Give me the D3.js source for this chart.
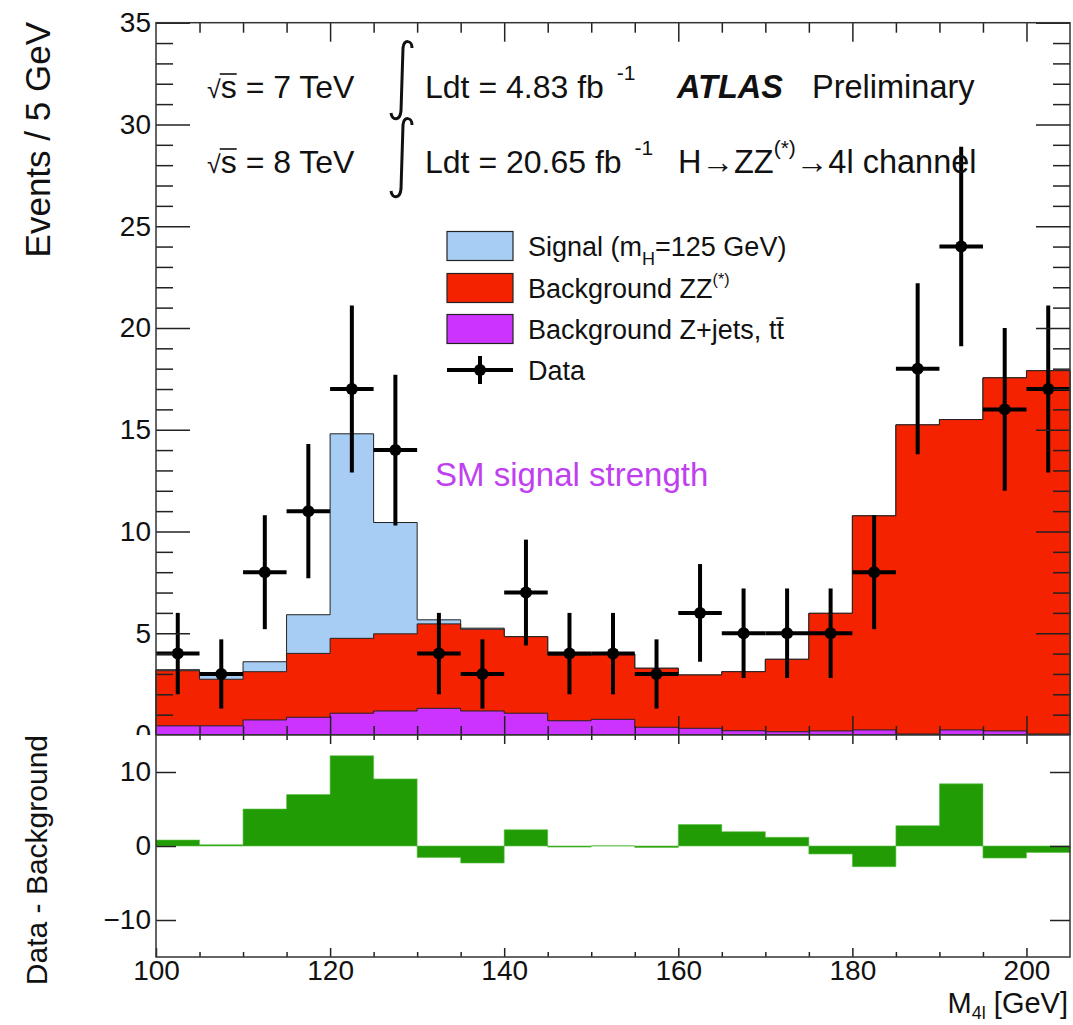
<!DOCTYPE html>
<html>
<head>
<meta charset="utf-8">
<title>H to ZZ(*) to 4l</title>
<script src="https://d3js.org/d3.v7.min.js"></script>
<style>
  html, body { margin: 0; background: #fff; }
  text { font-family: "Liberation Sans", Arial, Helvetica, sans-serif; }
</style>
</head>
<body>
<script>

// bin edges of M4l (GeV), 5 GeV bins
var edges = [100, 105, 110, 115, 120, 125, 130, 135, 140, 145, 150,
             155, 160, 165, 170, 175, 180, 185, 190, 195, 200, 205];

// expected events per bin
var zjets  = [0.45, 0.45, 0.74, 0.87, 1.07, 1.18, 1.31, 1.18, 1.07, 0.70, 0.77,
              0.38, 0.33, 0.21, 0.16, 0.20, 0.25, 0.05, 0.25, 0.20, 0.05];
var zz     = [2.71, 2.29, 2.37, 3.14, 3.68, 3.79, 4.15, 4.02, 3.76, 3.23, 3.21,
              2.90, 2.62, 2.90, 3.56, 5.78, 10.52, 15.19, 15.25, 17.35, 17.85];
var signal = [0.05, 0.24, 0.49, 1.90, 10.05, 5.47, 0.20, 0.05, 0, 0, 0,
              0, 0, 0, 0, 0, 0, 0, 0, 0, 0];

// observed events and their errors
var dataN   = [4, 3, 8, 11, 17, 14, 4, 3, 7, 4, 4, 3, 6, 5, 5, 5, 8, 18, 24, 16, 17];
var dataErr = [2.0, 1.7, 2.8, 3.3, 4.1, 3.7, 2.0, 1.7, 2.6, 2.0, 2.0,
               1.7, 2.4, 2.2, 2.2, 2.2, 2.8, 4.2, 4.9, 4.0, 4.1];

// data - background per bin (lower pad)
var diff = [0.80, 0.17, 5.00, 6.95, 12.2, 9.07, -1.54, -2.30, 2.20, -0.15, 0.02,
            -0.20, 2.90, 1.94, 1.17, -1.08, -2.80, 2.75, 8.40, -1.63, -0.87];

// ticks
var yTopMajor = [0, 5, 10, 15, 20, 25, 30, 35];
var yBotMajor = [-10, 0, 10];
var xMajor = [100, 120, 140, 160, 180, 200];
var xMinor = [105, 110, 115, 125, 130, 135, 145, 150, 155, 165, 170, 175, 185, 190, 195];

var W = 1073, H = 1025;
var svg = d3.select("body").append("svg").attr("width", W).attr("height", H);

var x    = d3.scaleLinear().domain([100, 205]).range([156, 1070]);
var yTop = d3.scaleLinear().domain([0, 35]).range([735, 22.7]);
var yBot = d3.scaleLinear().domain([-15, 15]).range([957, 735]);

var yTopMinor = d3.range(0, 36).filter(function(v) { return v % 5 != 0; });

// stacked totals
var cumZj  = zjets.slice();
var cumZZ  = zz.map(function(v, i) { return v + zjets[i]; });
var cumSig = signal.map(function(v, i) { return v + cumZZ[i]; });

function stepPts(vals) {
  var pts = vals.map(function(v, i) { return [edges[i], v]; });
  pts.push([edges[vals.length], vals[vals.length - 1]]);
  return pts;
}

var areaTop = d3.area().curve(d3.curveStepAfter)
  .x(function(d) { return x(d[0]); })
  .y0(yTop(0))
  .y1(function(d) { return yTop(d[1]); });

var upper = svg.append("g");

upper.append("path").datum(stepPts(cumSig)).attr("d", areaTop)
  .attr("fill", "#a8cdf5").attr("stroke", "#222").attr("stroke-width", 1);
upper.append("path").datum(stepPts(cumZZ)).attr("d", areaTop)
  .attr("fill", "#f52200").attr("stroke", "#222").attr("stroke-width", 1);
upper.append("path").datum(stepPts(cumZj)).attr("d", areaTop)
  .attr("fill", "#cc33ff").attr("stroke", "#222").attr("stroke-width", 1);

// data points
var pts = upper.append("g");
pts.selectAll("line.v").data(dataN).join("line").attr("class", "v")
  .attr("x1", function(d, i) { return x((edges[i] + edges[i + 1]) / 2); })
  .attr("x2", function(d, i) { return x((edges[i] + edges[i + 1]) / 2); })
  .attr("y1", function(d, i) { return yTop(d - dataErr[i]); })
  .attr("y2", function(d, i) { return yTop(d + dataErr[i]); })
  .attr("stroke", "#000").attr("stroke-width", 4);
pts.selectAll("line.h").data(dataN).join("line").attr("class", "h")
  .attr("x1", function(d, i) { return x(edges[i]); })
  .attr("x2", function(d, i) { return x(edges[i + 1]); })
  .attr("y1", function(d) { return yTop(d); })
  .attr("y2", function(d) { return yTop(d); })
  .attr("stroke", "#000").attr("stroke-width", 4);
pts.selectAll("circle").data(dataN).join("circle")
  .attr("cx", function(d, i) { return x((edges[i] + edges[i + 1]) / 2); })
  .attr("cy", function(d) { return yTop(d); })
  .attr("r", 6).attr("fill", "#000");

function axisG(gen, tx, ty) {
  var g = svg.append("g").attr("transform", "translate(" + tx + "," + ty + ")").call(gen);
  g.select(".domain").remove();
  g.selectAll("line").attr("stroke", "#222").attr("stroke-width", 1.5);
  g.attr("font-family", null).attr("font-size", 28);
  g.selectAll("text").attr("fill", "#111");
  return g;
}

// top pad axes
axisG(d3.axisLeft(yTop).tickValues(yTopMajor).tickSize(-34).tickPadding(5).tickFormat(d3.format("d")), 156, 0);
axisG(d3.axisLeft(yTop).tickValues(yTopMinor).tickSize(-17).tickFormat(""), 156, 0);
axisG(d3.axisRight(yTop).tickValues(yTopMajor).tickSize(-34).tickFormat(""), 1070, 0);
axisG(d3.axisRight(yTop).tickValues(yTopMinor).tickSize(-17).tickFormat(""), 1070, 0);
axisG(d3.axisTop(x).tickValues(xMajor.slice(1)).tickSize(-19).tickFormat(""), 0, 22.7);
axisG(d3.axisTop(x).tickValues(xMinor).tickSize(-10).tickFormat(""), 0, 22.7);
axisG(d3.axisBottom(x).tickValues(xMajor.slice(1)).tickSize(-19).tickFormat(""), 0, 735);
axisG(d3.axisBottom(x).tickValues(xMinor).tickSize(-9).tickFormat(""), 0, 735);

svg.append("rect").attr("x", 156).attr("y", 22.7).attr("width", 914).attr("height", 712.3)
  .attr("fill", "none").attr("stroke", "#333").attr("stroke-width", 1.5);

// texts in top pad
function rich(parent, xx, yy, size, parts, attrs) {
  var t = parent.append("text").attr("x", xx).attr("y", yy).attr("font-size", size).attr("fill", "#111");
  var prev = 0;
  parts.forEach(function(p) {
    var sh = p.shift || 0;
    var ts = t.append("tspan").text(p.t).attr("dy", sh - prev);
    if (p.size) ts.attr("font-size", p.size);
    if (p.weight) ts.attr("font-weight", p.weight);
    if (p.style) ts.attr("font-style", p.style);
    if (p.dx) ts.attr("dx", p.dx);
    prev = sh;
  });
  if (attrs) for (var k in attrs) t.attr(k, attrs[k]);
  return t;
}

function sqrtS(xx, yy, label) {
  var t = rich(svg, xx, yy, 32, [{t: "\u221A", size: 25}, {t: "s" + label}]);
  var e = t.node().getExtentOfChar(1);
  svg.append("line").attr("x1", e.x - 1).attr("x2", e.x + e.width)
    .attr("y1", yy - 24).attr("y2", yy - 24).attr("stroke", "#111").attr("stroke-width", 1.6);
}
sqrtS(207, 98, " = 7 TeV");
sqrtS(207, 173, " = 8 TeV");

var integ = svg.append("g").attr("fill", "none").attr("stroke", "#111").attr("stroke-width", 3);
integ.append("path").attr("d", "M412,48 C412,40 404,39 403,48 L401,111 C400,121 392,121 391,113");
integ.append("path").attr("d", "M412,125 C412,117 404,116 403,125 L401,189 C400,199 392,199 391,191");

rich(svg, 425, 98, 32, [{t: "Ldt = 4.83 fb "}, {t: "-1", size: 21, shift: -18, dx: 4}]);
rich(svg, 425, 173, 32, [{t: "Ldt = 20.65 fb "}, {t: "-1", size: 21, shift: -18, dx: 4}]);
rich(svg, 677, 98, 32.5, [{t: "ATLAS", weight: "bold", style: "italic"}]);
rich(svg, 812, 98, 32.5, [{t: "Preliminary"}]);
rich(svg, 678, 173, 32.5, [{t: "H\u2192ZZ"}, {t: "(*)", size: 21, shift: -18}, {t: "\u21924l channel"}]);

rich(svg, 435, 486, 33, [{t: "SM signal strength"}]).attr("fill", "#c040f0");

// legend
var legItems = [
  {fill: "#a8cdf5", parts: [{t: "Signal (m"}, {t: "H", size: 18, shift: 9}, {t: "=125 GeV)"}]},
  {fill: "#f52200", parts: [{t: "Background ZZ"}, {t: "(*)", size: 16, shift: -13}]},
  {fill: "#cc33ff", parts: [{t: "Background Z+jets, tt\u0304"}]},
  {fill: null, parts: [{t: "Data"}]}
];
var legY = [246, 288, 329, 370];
legItems.forEach(function(it, i) {
  var cy = legY[i];
  if (it.fill) {
    svg.append("rect").attr("x", 447).attr("y", cy - 14.5).attr("width", 66).attr("height", 29)
      .attr("fill", it.fill).attr("stroke", "#222").attr("stroke-width", 1.2);
  } else {
    svg.append("line").attr("x1", 447).attr("x2", 513).attr("y1", cy).attr("y2", cy)
      .attr("stroke", "#000").attr("stroke-width", 4);
    svg.append("line").attr("x1", 480).attr("x2", 480).attr("y1", cy - 14).attr("y2", cy + 14)
      .attr("stroke", "#000").attr("stroke-width", 4);
    svg.append("circle").attr("cx", 480).attr("cy", cy).attr("r", 6).attr("fill", "#000");
  }
  rich(svg, 528, cy + 10, 27, it.parts);
});

// top y title
svg.append("text").attr("transform", "translate(50,22) rotate(-90)")
  .attr("text-anchor", "end").attr("font-size", 35).attr("fill", "#111").text("Events / 5 GeV");

// lower pad
svg.append("rect").attr("x", 0).attr("y", 735).attr("width", W).attr("height", H - 735).attr("fill", "#fff");

var areaBot = d3.area().curve(d3.curveStepAfter)
  .x(function(d) { return x(d[0]); })
  .y0(yBot(0))
  .y1(function(d) { return yBot(d[1]); });
svg.append("path").datum(stepPts(diff)).attr("d", areaBot)
  .attr("fill", "#219c05").attr("stroke", "#5cc044").attr("stroke-width", 0.6);

axisG(d3.axisLeft(yBot).tickValues(yBotMajor).tickSize(-20).tickPadding(5).tickFormat(d3.format("d")), 156, 0);
axisG(d3.axisRight(yBot).tickValues(yBotMajor).tickSize(-20).tickFormat(""), 1070, 0);
axisG(d3.axisBottom(x).tickValues(xMajor).tickSize(-9).tickPadding(3).tickFormat(d3.format("d")), 0, 957);
axisG(d3.axisBottom(x).tickValues(xMinor).tickSize(-5).tickFormat(""), 0, 957);
axisG(d3.axisTop(x).tickValues(xMajor.slice(1)).tickSize(-9).tickFormat(""), 0, 735);
axisG(d3.axisTop(x).tickValues(xMinor).tickSize(-5).tickFormat(""), 0, 735);

svg.append("rect").attr("x", 156).attr("y", 735).attr("width", 914).attr("height", 222)
  .attr("fill", "none").attr("stroke", "#333").attr("stroke-width", 1.5);

svg.append("text").attr("transform", "translate(47,735) rotate(-90)")
  .attr("text-anchor", "end").attr("font-size", 30).attr("fill", "#111").text("Data - Background");

rich(svg, 1068, 1013, 29, [{t: "M"}, {t: "4l", size: 18, shift: 6}, {t: " [GeV]", shift: 0}],
  {"text-anchor": "end"});

</script>
</body>
</html>
